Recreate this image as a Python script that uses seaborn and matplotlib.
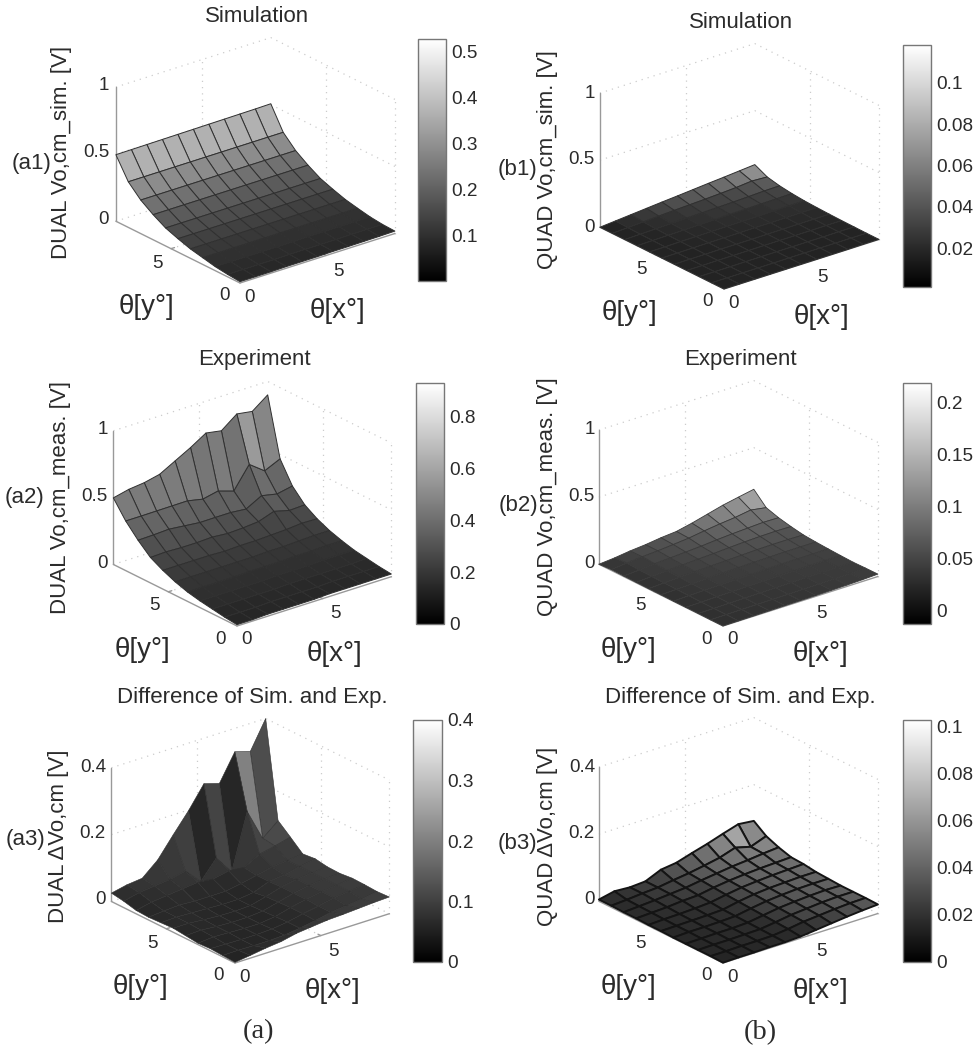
import numpy as np
import matplotlib
matplotlib.use('Agg')
import matplotlib.pyplot as plt
import seaborn as sns
from matplotlib.cm import ScalarMappable
from matplotlib.colors import Normalize
from mpl_toolkits.mplot3d import proj3d

# grid of the tilt angles, both directions
theta = [0, 0.9, 1.8, 2.7, 3.6, 4.5, 5.4, 6.3, 7.2, 8.1, 9]

# surfaces, rows run from theta_y=0 up to theta_y=9
dual_sim = [
    [.010, .010, .010, .012, .012, .012, .014, .014, .015, .016, .018],
    [.018, .018, .018, .018, .020, .020, .020, .020, .022, .022, .022],
    [.030, .030, .030, .030, .030, .030, .032, .032, .032, .032, .032],
    [.050, .050, .050, .050, .050, .050, .050, .050, .050, .050, .050],
    [.070, .070, .070, .070, .070, .070, .070, .070, .070, .070, .070],
    [.100, .100, .100, .100, .100, .100, .100, .100, .100, .100, .100],
    [.134, .134, .134, .134, .134, .134, .134, .134, .134, .134, .134],
    [.187, .187, .187, .187, .187, .187, .187, .187, .187, .187, .187],
    [.250, .250, .250, .250, .250, .250, .250, .250, .250, .250, .250],
    [.340, .340, .340, .340, .340, .340, .340, .340, .340, .340, .340],
    [.496, .497, .498, .499, .500, .501, .502, .503, .504, .505, .507],
]
dual_meas = [
    [.010, .010, .015, .015, .015, .015, .020, .020, .020, .020, .020],
    [.020, .020, .020, .025, .025, .025, .025, .030, .030, .030, .030],
    [.035, .035, .035, .035, .035, .040, .040, .040, .040, .040, .045],
    [.050, .050, .050, .050, .050, .055, .055, .055, .060, .060, .060],
    [.070, .070, .070, .070, .075, .075, .075, .080, .080, .085, .085],
    [.100, .100, .100, .100, .100, .100, .105, .105, .110, .115, .115],
    [.140, .140, .140, .140, .135, .140, .140, .145, .150, .160, .157],
    [.190, .195, .190, .190, .195, .185, .190, .200, .240, .210, .215],
    [.273, .276, .282, .270, .258, .259, .259, .248, .311, .287, .310],
    [.371, .371, .372, .373, .374, .350, .375, .338, .500, .415, .468],
    [.498, .525, .538, .564, .627, .690, .762, .742, .831, .813, .900],
]
dual_diff = [
    [.002, .008, .015, .020, .030, .035, .040, .042, .045, .048, .050],
    [.004, .005, .004, .004, .006, .012, .020, .030, .035, .040, .048],
    [.006, .005, .004, .004, .006, .012, .022, .030, .040, .045, .050],
    [.004, .008, .006, .004, .004, .010, .022, .032, .040, .045, .051],
    [.008, .010, .006, .004, .004, .008, .020, .032, .040, .045, .047],
    [.012, .012, .008, .005, .004, .006, .018, .032, .040, .045, .048],
    [.010, .012, .010, .008, .006, .006, .012, .030, .035, .045, .054],
    [.008, .012, .015, .012, .012, .012, .020, .030, .040, .045, .050],
    [.010, .020, .025, .030, .035, .030, .040, .035, .060, .070, .082],
    [.019, .030, .035, .040, .050, .005, .060, .005, .170, .075, .113],
    [.025, .035, .040, .080, .140, .198, .264, .250, .330, .316, .400],
]
quad_sim = [
    [.000, .000, .000, .000, .000, .000, .000, .000, .000, .001, .001],
    [.000, .000, .000, .000, .000, .001, .001, .001, .001, .001, .001],
    [.000, .000, .000, .001, .001, .001, .001, .001, .001, .002, .002],
    [.000, .000, .001, .001, .001, .002, .002, .002, .002, .003, .003],
    [.000, .001, .001, .002, .002, .002, .003, .003, .004, .004, .005],
    [.000, .001, .002, .003, .003, .004, .005, .005, .006, .007, .008],
    [.000, .001, .003, .004, .005, .006, .007, .008, .010, .011, .012],
    [.000, .002, .004, .006, .008, .010, .012, .014, .016, .018, .020],
    [.000, .003, .006, .009, .012, .015, .018, .021, .025, .030, .032],
    [.000, .006, .012, .018, .024, .029, .034, .040, .047, .058, .052],
    [.000, .010, .020, .030, .040, .049, .059, .069, .078, .088, .098],
]
quad_meas = [
    [.000, .001, .002, .003, .004, .005, .006, .008, .010, .013, .018],
    [.000, .002, .003, .004, .005, .006, .007, .009, .010, .012, .017],
    [.001, .002, .004, .005, .007, .008, .010, .011, .012, .014, .015],
    [.001, .003, .006, .008, .010, .012, .013, .015, .016, .017, .018],
    [.001, .005, .008, .011, .013, .015, .017, .019, .020, .021, .022],
    [.002, .006, .010, .014, .017, .020, .023, .025, .027, .027, .027],
    [.002, .008, .013, .018, .022, .026, .030, .034, .036, .036, .034],
    [.003, .010, .016, .022, .028, .033, .040, .046, .050, .052, .050],
    [.004, .012, .022, .028, .035, .042, .052, .060, .066, .072, .070],
    [.006, .018, .028, .035, .045, .056, .073, .088, .100, .118, .099],
    [.000, .010, .025, .035, .050, .060, .085, .115, .145, .168, .190],
]
quad_diff = [
    [.001, .002, .002, .003, .003, .005, .010, .015, .020, .024, .027],
    [.002, .002, .003, .003, .004, .009, .016, .020, .024, .027, .028],
    [.002, .003, .003, .004, .005, .011, .018, .022, .026, .028, .028],
    [.002, .003, .004, .004, .006, .013, .020, .024, .027, .029, .028],
    [.002, .004, .004, .005, .007, .015, .022, .026, .029, .030, .030],
    [.003, .004, .005, .006, .008, .017, .024, .028, .030, .032, .032],
    [.003, .005, .006, .008, .011, .019, .026, .030, .033, .035, .037],
    [.004, .006, .008, .012, .014, .022, .028, .032, .035, .037, .039],
    [.004, .007, .010, .014, .018, .025, .031, .037, .041, .046, .050],
    [.005, .008, .012, .015, .022, .028, .036, .045, .060, .048, .065],
    [.005, .015, .012, .015, .035, .041, .055, .068, .083, .097, .092],
]

z_ticks_volt = [0, 0.5, 1]
z_ticks_diff = [0, 0.2, 0.4]
z_labels_volt = ['0', '0.5', '1']
z_labels_diff = ['0', '0.2', '0.4']

W, H = 979, 1050
S = 560  # size of the square 3d axes in pixels

sns.set_theme(style='white')
plt.rcParams['font.family'] = ['Liberation Sans', 'DejaVu Sans']
plt.rcParams['axes3d.automargin'] = True

gray = sns.color_palette('gray', as_cmap=True)
ink = '#2b2b2b'
axis_col = '#999999'
dot_col = '#cccccc'


def put(fig, x, y, s, **kw):
    kw.setdefault('ha', 'center')
    kw.setdefault('va', 'center')
    kw.setdefault('color', ink)
    fig.text(x / W, 1 - y / H, s, **kw)


def screen(ax, x, y, z):
    a, b, _ = proj3d.proj_transform(x, y, z, ax.get_proj())
    return ax.transData.transform((a, b))


def surface_panel(fig, z, z_ticks, z_labels, vlim, ticks, tick_fmt, title, zlabel, tag,
                  left, z_top, front, right_x, cbar, tag_xy, zlabel_y, lw=0.7, edge='#303030'):
    x0, y0 = left
    ax = fig.add_axes([0.1, 0.1, S / W, S / H], projection='3d', computed_zorder=False)
    ax.set_facecolor('none')
    ax.set_axis_off()
    ax.view_init(elev=23.5, azim=-128.7)
    ax.set_proj_type('ortho')
    tmax = theta[-1]
    ztop = z_ticks[-1]
    ax.set_xlim(0, tmax)
    ax.set_ylim(0, tmax)
    ax.set_zlim(0, ztop)

    # scale and shift the axes so the box lands where it is in the picture
    aspect = (1, 1, 0.737)
    ax.set_box_aspect(aspect)
    span = screen(ax, tmax, 0, 0)[0] - screen(ax, 0, tmax, 0)[0]
    ax.set_box_aspect(aspect, zoom=(right_x - x0) / span)
    fx, fy = screen(ax, 0, 0, 0)
    lft = 0.1 + (front[0] - fx) / W
    bot = 0.1 + ((H - front[1]) - fy) / H
    ax.set_position([lft, bot, S / W, S / H])

    # dotted box behind the surface
    dots = dict(color=dot_col, lw=0.9, ls=(0, (1, 4)), zorder=1)
    for zt in z_ticks:
        ax.plot([0, tmax, tmax], [tmax, tmax, 0], [zt, zt, zt], **dots)
    ax.plot([5, 5], [tmax, tmax], [0, ztop], **dots)
    ax.plot([tmax, tmax], [5, 5], [0, ztop], **dots)
    ax.plot([tmax, tmax], [0, 0], [0, ztop], **dots)
    ax.plot([5, 5], [0, tmax], [0, 0], **dots)
    ax.plot([0, tmax], [5, 5], [0, 0], **dots)

    # solid axis lines
    solid = dict(color=axis_col, lw=1.0, zorder=1.5)
    ax.plot([0, 0], [tmax, tmax], [0, ztop], **solid)
    ax.plot([0, 0], [tmax, 0], [0, 0], **solid)
    ax.plot([0, tmax], [0, 0], [0, 0], **solid)
    ax.plot([5, 5], [0, 0.2], [0, 0], **solid)
    ax.plot([0, 0.2], [5, 5], [0, 0], **solid)

    # flat shading from the low corner of each face, dark end lifted like the scan
    xx, yy = np.meshgrid(theta, theta)
    zz = np.array(z)
    norm = Normalize(vlim[0], vlim[1])
    shade = 0.14 + 0.86 * np.clip(norm(zz), 0, 1)
    ax.plot_surface(xx, yy, zz, facecolors=gray(shade), rstride=1, cstride=1, shade=False,
                    linewidth=lw, edgecolor=edge, antialiased=True, zorder=2)

    # text around the box
    for zt, lab in zip(z_ticks, z_labels):
        put(fig, x0 - 7, left[1] - (left[1] - z_top) * zt / ztop, lab, ha='right', fontsize=13.5)
    put(fig, x0 - 54, zlabel_y, zlabel, rotation=90, fontsize=16)
    put(fig, tag_xy[0], tag_xy[1], tag, fontsize=16)
    put(fig, front[0] + 17, front[1] - 266, title, fontsize=16)
    put(fig, front[0] - 83, front[1] - 20, '5', fontsize=13.5)
    put(fig, front[0] - 16, front[1] + 13, '0', fontsize=13.5)
    put(fig, front[0] + 10, front[1] + 14, '0', fontsize=13.5)
    put(fig, front[0] + 98, front[1] - 12, '5', fontsize=13.5)
    put(fig, front[0] - 94, front[1] + 24, 'θ[y°]', fontsize=20)
    put(fig, front[0] + 98, front[1] + 28, 'θ[x°]', fontsize=20)

    # colorbar
    cx0, cy0, cx1, cy1 = cbar
    cax = fig.add_axes([cx0 / W, 1 - cy1 / H, (cx1 - cx0) / W, (cy1 - cy0) / H])
    cb = fig.colorbar(ScalarMappable(norm=norm, cmap=gray), cax=cax)
    cb.set_ticks(ticks)
    cb.set_ticklabels([tick_fmt(t) for t in ticks])
    cb.outline.set_edgecolor('#777777')
    cb.outline.set_linewidth(1.0)
    cax.tick_params(axis='y', direction='in', left=True, right=True, length=2.5, width=0.7,
                    color='#555555', labelsize=13.7, labelcolor=ink, pad=4)
    return ax


fig = plt.figure(figsize=(W / 100, H / 100), dpi=100, facecolor='white')
fmt = lambda t: f'{t:g}'

surface_panel(fig, dual_sim, z_ticks_volt, z_labels_volt, (0.0, .528), [.1, .2, .3, .4, .5], fmt,
              'Simulation', 'DUAL Vo,cm_sim. [V]', '(a1)',
              (116, 219), 86, (240, 283), 395, (418, 39, 446, 281), (32, 164), 152)
surface_panel(fig, dual_meas, z_ticks_volt, z_labels_volt, (0.0, .93), [0, .2, .4, .6, .8], fmt,
              'Experiment', 'DUAL Vo,cm_meas. [V]', '(a2)',
              (115, 563), 430, (237, 626), 393, (416, 383, 444, 624), (25, 497), 497)
surface_panel(fig, dual_diff, z_ticks_diff, z_labels_diff, (0.0, .4), [0, .1, .2, .3, .4], fmt,
              'Difference of Sim. and Exp.', 'DUAL ΔVo,cm [V]', '(a3)',
              (113, 900), 768, (235, 963), 391, (413, 720, 442, 962), (26, 840), 836, lw=0.4)
surface_panel(fig, quad_sim, z_ticks_volt, z_labels_volt, (.0011, .1184), [.02, .04, .06, .08, .1], fmt,
              'Simulation', 'QUAD Vo,cm_sim. [V]', '(b1)',
              (602, 227), 93, (724, 289), 881, (903, 45, 931, 287), (518, 170), 160)
surface_panel(fig, quad_meas, z_ticks_volt, z_labels_volt, (-.0135, .219), [0, .05, .1, .15, .2], fmt,
              'Experiment', 'QUAD Vo,cm_meas. [V]', '(b2)',
              (602, 563), 430, (723, 626), 881, (903, 383, 931, 624), (518, 505), 497, lw=0.6, edge='#3a3a3a')
surface_panel(fig, quad_diff, z_ticks_diff, z_labels_diff, (0.0, .1028), [0, .02, .04, .06, .08, .1], fmt,
              'Difference of Sim. and Exp.', 'QUAD ΔVo,cm [V]', '(b3)',
              (602, 900), 768, (723, 963), 881, (903, 720, 931, 962), (517, 843), 836, lw=1.4, edge='#141414')

put(fig, 258, 1032, '(a)', fontsize=20.5, family='Liberation Serif')
put(fig, 760, 1033, '(b)', fontsize=20.5, family='Liberation Serif')

fig.savefig('out.png', dpi=100)
